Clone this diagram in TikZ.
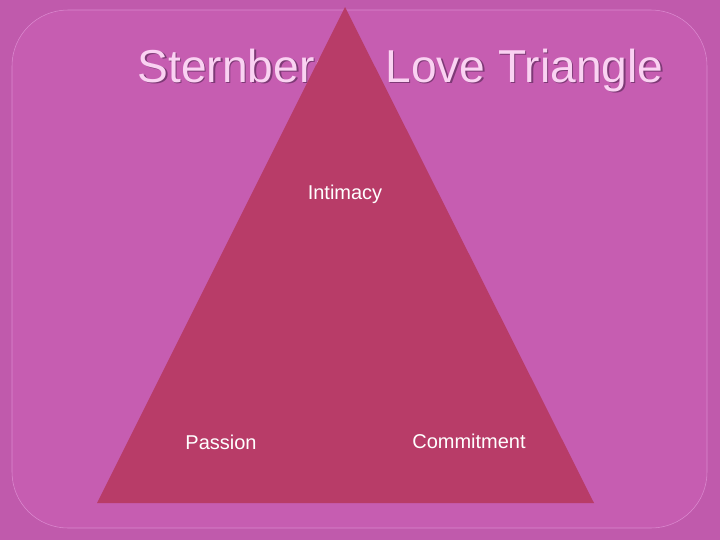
\documentclass[tikz,border=0pt]{standalone}
\usepackage{fontspec}
\setmainfont{Liberation Sans}
\usepackage{xcolor}
\usetikzlibrary{positioning, calc, shadows}
\definecolor{sfondo}{HTML}{C05AAC}
\definecolor{pannello}{HTML}{C65DB1}
\definecolor{bordo}{HTML}{DC8AD0}
\definecolor{triangolo}{HTML}{B83C68}
\definecolor{titolo}{HTML}{FAD2F2}
\definecolor{ombra}{HTML}{7E3A76}
\tikzset{
    vertice/.style={text=white, font=\fontsize{15}{17}\selectfont, inner sep=0pt},
}

\begin{document}
\begin{tikzpicture}[x=0.75pt, y=-0.75pt]
    % Sfondo e pannello arrotondato
    \fill[sfondo] (0,0) rectangle (720,540);
    \draw[bordo, fill=pannello, rounded corners=42] (12,10) rectangle (707,528);

    % Titolo (con ombra)
    \node[text=ombra, font=\fontsize{34.6}{38}\selectfont, anchor=base] at (402,83.5) {Sternberg's Love Triangle};
    \node (titolo) [text=titolo, font=\fontsize{34.6}{38}\selectfont, anchor=base] at (400.5,82) {Sternberg's Love Triangle};

    % Triangolo
    \coordinate (apice) at (345,7);
    \coordinate (sx) at (97,503);
    \coordinate (dx) at (594,503);
    \fill[triangolo] (apice) -- (sx) -- (dx) -- cycle;

    % Etichette dei vertici
    \node (intimita) [vertice] at (345,194) {Intimacy};
    \node (passione) [vertice] at (221,442) {Passion};
    \node (impegno) [vertice] at (469,441) {Commitment};
\end{tikzpicture}
\end{document}
